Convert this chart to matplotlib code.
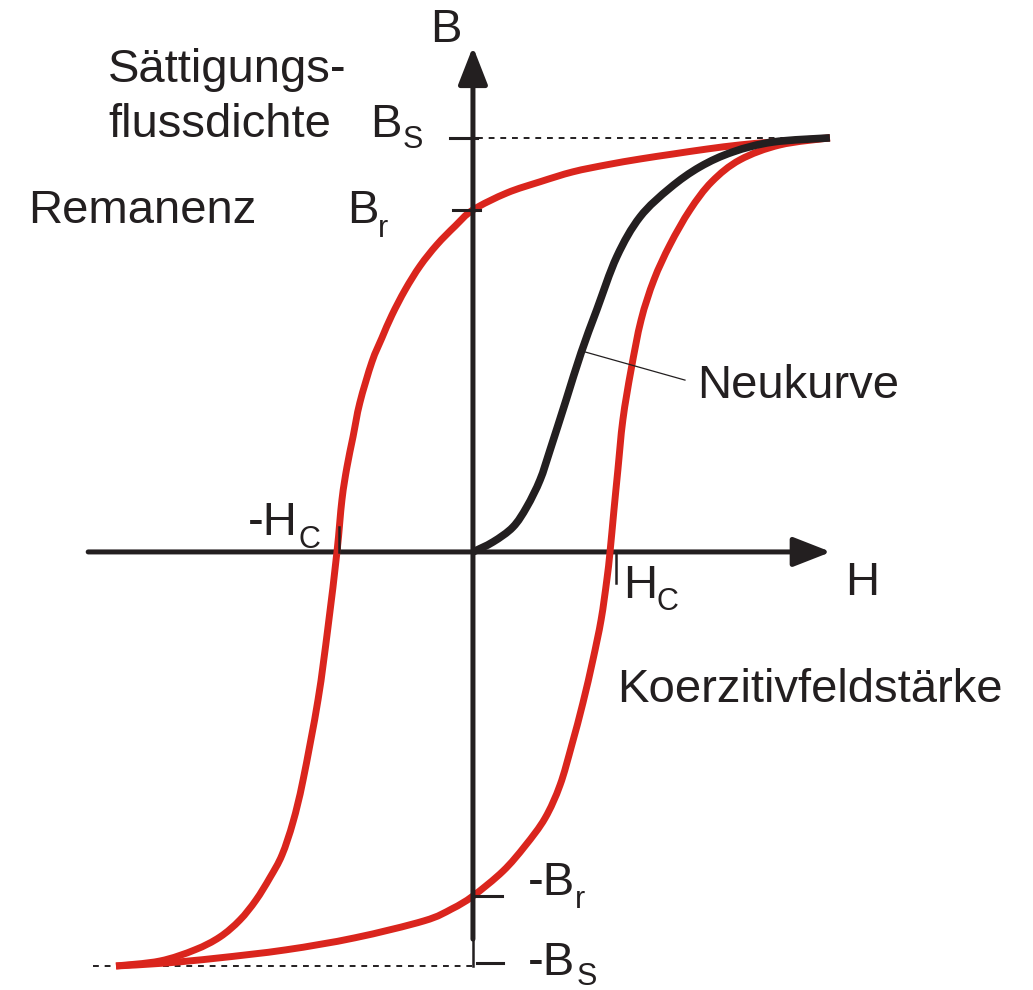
import numpy as np
import matplotlib.pyplot as plt
from matplotlib.path import Path
from matplotlib.patches import PathPatch

plt.rcParams['font.family'] = ['Liberation Sans', 'DejaVu Sans']

# Kennwerte (normiert auf Saettigung)
H_S = 1.0
B_S = 1.0
B_R = 0.826
H_C = 0.384

# Hystereseschleife, absteigender Ast (+Saettigung -> -Saettigung)
h_desc = [1.000, 0.840, 0.748, 0.655, 0.560, 0.468, 0.375, 0.280, 0.188, 0.095,
          0.000, -0.050, -0.101, -0.148, -0.190, -0.227, -0.255, -0.283, -0.317,
          -0.336, -0.353, -0.367, -0.381, -0.406, -0.434, -0.476, -0.504, -0.535,
          -0.569, -0.608, -0.653, -0.709, -0.779, -0.877, -1.000]
b_desc = [1.000, 0.990, 0.983, 0.973, 0.961, 0.949, 0.935, 0.918, 0.894, 0.867,
          0.826, 0.787, 0.742, 0.691, 0.633, 0.572, 0.517, 0.459, 0.360,
          0.278, 0.205, 0.126, 0.000, -0.181, -0.357, -0.551, -0.652, -0.732,
          -0.787, -0.841, -0.889, -0.930, -0.961, -0.988, -1.000]

# aufsteigender Ast (-Saettigung -> +Saettigung)
h_asc = [-1.000, -0.863, -0.717, -0.524, -0.331, -0.137, -0.059, 0.000, 0.084,
         0.146, 0.202, 0.244, 0.277, 0.308, 0.336, 0.359, 0.375, 0.384, 0.395,
         0.406, 0.420, 0.443, 0.471, 0.507, 0.552, 0.608, 0.669, 0.748, 0.860,
         1.000]
b_asc = [-1.000, -0.993, -0.981, -0.961, -0.932, -0.891, -0.862, -0.831, -0.771,
         -0.710, -0.643, -0.563, -0.466, -0.365, -0.261, -0.164, -0.068, 0.000,
         0.101, 0.198, 0.319, 0.440, 0.560, 0.657, 0.742, 0.826, 0.894, 0.947,
         0.983, 1.000]

# Neukurve
h_new = [0.000, 0.056, 0.112, 0.151, 0.188, 0.216, 0.261, 0.303, 0.347, 0.403,
         0.468, 0.552, 0.636, 0.728, 0.840, 1.000]
b_new = [0.000, 0.024, 0.060, 0.109, 0.174, 0.246, 0.367, 0.481, 0.585, 0.713,
         0.809, 0.879, 0.930, 0.966, 0.990, 1.000]

red = '#da251d'
ink = '#231f20'
fs = 34
fs_sub = 22


def smooth_path(xs, ys):
    # Catmull-Rom durch die Stuetzpunkte, als kubische Bezier-Kurven
    p = np.column_stack([xs, ys])
    ext = np.vstack([p[0], p, p[-1]])
    verts = [p[0]]
    codes = [Path.MOVETO]
    for i in range(len(p) - 1):
        p0, p1, p2, p3 = ext[i], ext[i + 1], ext[i + 2], ext[i + 3]
        verts += [p1 + (p2 - p0) / 6, p2 - (p3 - p1) / 6, p2]
        codes += [Path.CURVE4] * 3
    return Path(verts, codes)


def curve(ax, xs, ys, color, lw, z):
    ax.add_patch(PathPatch(smooth_path(xs, ys), fill=False, edgecolor=color,
                           lw=lw, joinstyle='round', capstyle='butt', zorder=z))


fig = plt.figure(figsize=(10.33, 9.9), dpi=100)
ax = fig.add_axes([0, 0, 1, 1])
ax.set_xlim(-1.325, 1.569)
ax.set_ylim(-1.058, 1.333)
ax.axis('off')

arrow = dict(arrowstyle='-|>,head_length=23,head_width=9', mutation_scale=1,
             lw=3.6, color=ink, shrinkA=0, shrinkB=0)

# H-Achse
ax.annotate('', xy=(1.003, 0), xytext=(-1.078, 0), arrowprops=arrow, zorder=1)

# Schleife
curve(ax, h_desc, b_desc, red, 5, 2)
curve(ax, h_asc, b_asc, red, 5, 2)

# B-Achse
ax.annotate('', xy=(0, 1.22), xytext=(0, -0.935), arrowprops=arrow, zorder=3)
ax.plot([0, 0], [-0.935, -B_S], color=ink, lw=1.8, zorder=3)

# Neukurve
curve(ax, h_new, b_new, ink, 5.5, 4)

# Hilfslinien
ax.plot([0.011, H_S], [B_S, B_S], color=ink, lw=1.4, dashes=(3, 3), zorder=1)
ax.plot([-1.065, 0], [-B_S, -B_S], color=ink, lw=1.4, dashes=(3, 3), zorder=1)

# Markierungen
ax.plot([-0.064, 0.011], [B_S, B_S], color=ink, lw=2.2, zorder=5)
ax.plot([-0.056, 0.020], [B_R, B_R], color=ink, lw=2.2, zorder=5)
ax.plot([0.006, 0.081], [-0.831, -0.831], color=ink, lw=2.2, zorder=5)
ax.plot([0.011, 0.084], [-0.993, -0.993], color=ink, lw=2.2, zorder=5)
ax.plot([-0.375, -0.375], [0, 0.060], color=ink, lw=1.8, zorder=5)
ax.plot([0.401, 0.401], [0, -0.075], color=ink, lw=1.8, zorder=5)
ax.plot([0.314, 0.594], [0.483, 0.415], color=ink, lw=0.9, zorder=5)


# Beschriftung
def label(x, y, s, size=fs):
    ax.text(x, y, s, fontsize=size, color=ink, ha='left', va='baseline')


label(-0.120, 1.232, 'B')
label(1.042, -0.104, 'H')
label(-1.022, 1.135, 'Sättigungs-')
label(-1.022, 1.002, 'flussdichte')
label(-0.289, 1.002, 'B')
label(-0.196, 0.976, 'S', fs_sub)
label(-1.246, 0.795, 'Remanenz')
label(-0.353, 0.795, 'B')
label(-0.266, 0.761, 'r', fs_sub)
label(0.627, 0.372, 'Neukurve')
label(-0.630, 0.041, '-H')
label(-0.490, 0.010, 'C', fs_sub)
label(0.420, -0.111, 'H')
label(0.515, -0.140, 'C', fs_sub)
label(0.403, -0.362, 'Koerzitivfeldstärke')
label(0.154, -0.829, '-B')
label(0.286, -0.860, 'r', fs_sub)
label(0.154, -1.022, '-B')
label(0.290, -1.046, 'S', fs_sub)

fig.savefig('out.png', dpi=100)
